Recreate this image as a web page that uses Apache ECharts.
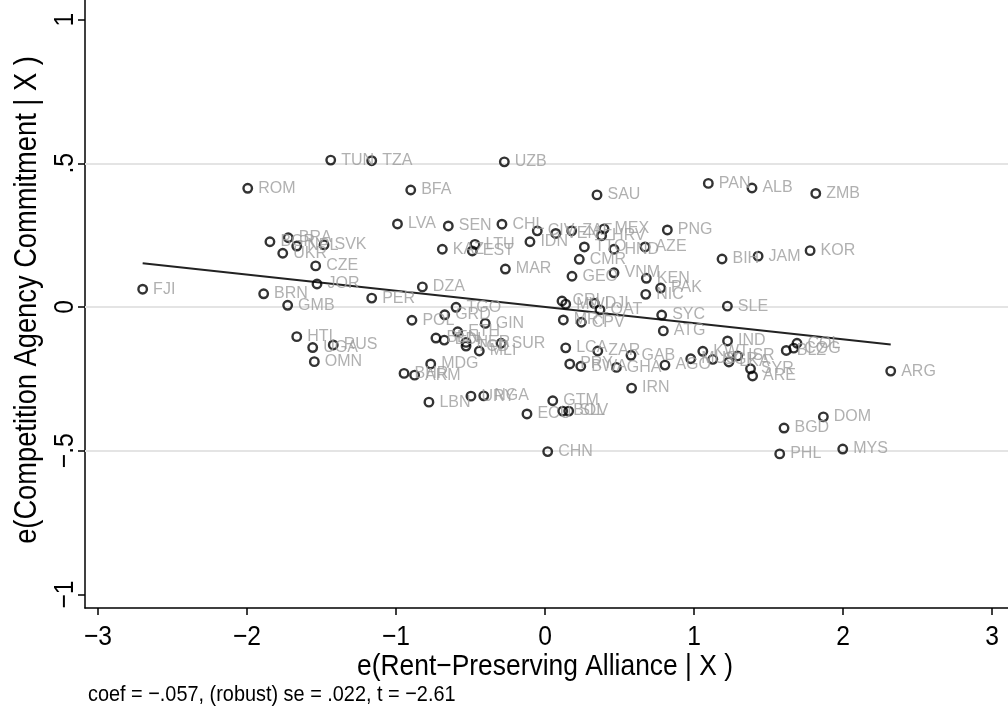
<!DOCTYPE html>
<html>
<head>
<meta charset="utf-8">
<script src="https://cdn.jsdelivr.net/npm/echarts@6/dist/echarts.min.js"></script>
<style>
  html, body { margin: 0; padding: 0; background: #fff; }
  #chart { width: 1008px; height: 715px; }
</style>
</head>
<body>
<div id="chart"></div>
<script>
// country codes and partial-residual values
var codes = ['FJI','ROM','TUN','TZA','BGR','BRA','NPL','SVK','UKR','CZE','JOR','BRN','GMB','PER','HTI','UGA','RUS','OMN',
  'LVA','BFA','UZB','SAU','SEN','CHL','CIV','VEN','ZAF','MEX','HRV','IDN','KAZ','LTU','EST','TTO','HND','AZE','CMR','MAR',
  'GEO','VNM','KEN','PAK','NIC','DZA','TGO','GRD','POL','GIN','CRI','MWI','DJI','QAT','MRT','CPV','SYC','ATG','SLE',
  'ETH','BEN','BDI','NER','TCD','SUR','MLI','MDG','BHR','ARM','LBN','URY','NGA','GTM','ECU','BOL','SLV','LCA','ZAR',
  'PRY','BWA','GHA','GAB','AGO','IRN','CHN','IND','MUS','KWT','SGP','LKA','ISR','SYR','ARE','BLZ','COG','COL','ARG',
  'DOM','BGD','PHL','MYS','PAN','ALB','ZMB','PNG','BIH','JAM','KOR'];
var xs = [-2.700,-1.995,-1.438,-1.163,-1.846,-1.723,-1.666,-1.483,-1.760,-1.539,-1.530,-1.888,-1.727,-1.163,-1.666,-1.559,-1.421,-1.548,
  -0.990,-0.901,-0.273,0.349,-0.649,-0.289,-0.052,0.072,0.179,0.396,0.380,-0.101,-0.689,-0.470,-0.488,0.264,0.463,0.671,0.230,-0.266,
  0.181,0.463,0.680,0.776,0.676,-0.823,-0.597,-0.673,-0.893,-0.401,0.114,0.139,0.331,0.369,0.123,0.244,0.783,0.794,1.224,
  -0.586,-0.732,-0.676,-0.530,-0.530,-0.295,-0.441,-0.767,-0.946,-0.875,-0.779,-0.497,-0.411,0.052,-0.121,0.119,0.159,0.139,0.354,
  0.166,0.240,0.479,0.577,0.805,0.581,0.018,1.225,0.978,1.059,1.126,1.234,1.292,1.379,1.393,1.619,1.669,1.691,2.320,
  1.868,1.604,1.575,1.998,1.096,1.389,1.817,0.821,1.188,1.430,1.779];
var ys = [0.062,0.413,0.511,0.509,0.227,0.241,0.212,0.216,0.187,0.143,0.080,0.046,0.006,0.031,-0.103,-0.141,-0.132,-0.190,
  0.289,0.407,0.505,0.390,0.282,0.288,0.265,0.256,0.265,0.272,0.248,0.227,0.201,0.218,0.195,0.209,0.201,0.209,0.166,0.132,
  0.107,0.119,0.100,0.066,0.044,0.070,-0.001,-0.027,-0.046,-0.057,0.021,0.010,0.013,-0.010,-0.045,-0.053,-0.028,-0.083,0.003,
  -0.086,-0.108,-0.115,-0.123,-0.136,-0.126,-0.153,-0.198,-0.231,-0.237,-0.331,-0.310,-0.309,-0.326,-0.372,-0.362,-0.362,-0.142,-0.153,
  -0.198,-0.206,-0.210,-0.168,-0.202,-0.282,-0.503,-0.118,-0.180,-0.154,-0.182,-0.191,-0.170,-0.215,-0.240,-0.151,-0.143,-0.126,-0.223,
  -0.382,-0.421,-0.511,-0.494,0.430,0.414,0.395,0.268,0.167,0.177,0.196];

// fitted line endpoints (coef = -.057)
var fitX = [-2.70, 2.32];
var fitY = [0.152, -0.130];

var xTicks = [-3, -2, -1, 0, 1, 2, 3];
var yTicks = [-1, -0.5, 0, 0.5, 1];
var yGrid = [-0.5, 0, 0.5];

var xTitle = 'e(Rent\u2212Preserving Alliance | X )';
var yTitle = 'e(Competition Agency Commitment | X )';
var note = 'coef = \u2212.057, (robust) se = .022, t = \u22122.61';

var sans = '"Liberation Sans", Arial, sans-serif';
var squeeze = 0.88;   // no narrow font installed, so squeeze the text

// stata style numbers: minus sign, no leading zero
function stataNum(v) {
    var s = String(Math.abs(v)).replace(/^0\./, '.');
    return v < 0 ? '\u2212' + s : s;
}

var chart = echarts.init(document.getElementById('chart'));

var points = codes.map(function (c, i) {
    return { name: c, value: [xs[i], ys[i]] };
});

var option = {
    backgroundColor: '#fff',
    animation: false,
    grid: { left: 85, right: 0, top: 0, bottom: 107 },
    xAxis: {
        type: 'value',
        min: -3.087,
        max: 3.107,
        axisLine: { onZero: false, lineStyle: { color: '#000', width: 1.5 } },
        axisTick: { customValues: xTicks, length: 7, lineStyle: { color: '#000', width: 1.5 } },
        axisLabel: { show: false },
        splitLine: { show: false }
    },
    yAxis: {
        type: 'value',
        min: -1.047,
        max: 1.068,
        axisLine: { onZero: false, lineStyle: { color: '#000', width: 1.5 } },
        axisTick: { customValues: yTicks, length: 7, lineStyle: { color: '#000', width: 1.5 } },
        axisLabel: { show: false },
        splitLine: { show: false }
    },
    series: [
        {
            type: 'line',
            data: fitX.map(function (x, i) { return [x, fitY[i]]; }),
            showSymbol: false,
            lineStyle: { color: '#222', width: 2 },
            z: 3,
            silent: true,
            markLine: {
                silent: true,
                symbol: 'none',
                label: { show: false },
                lineStyle: { color: '#e4e4e4', width: 2, type: 'solid' },
                data: yGrid.map(function (v) { return { yAxis: v }; }),
                z: 1
            }
        },
        {
            type: 'scatter',
            data: points,
            symbol: 'circle',
            symbolSize: 8.5,
            itemStyle: { color: 'rgba(0,0,0,0)', borderColor: '#000', borderWidth: 2.4 },
            label: {
                show: true,
                position: 'right',
                distance: 5,
                formatter: '{b}',
                fontFamily: sans,
                fontSize: 16,
                color: '#9c9c9c'
            },
            z: 4
        }
    ]
};

chart.setOption(option);

// tick labels and titles drawn as squeezed text, placed through the axes
function txt(s, x, y, size, rot, align) {
    return {
        type: 'text',
        x: x,
        y: y,
        rotation: rot || 0,
        scaleX: squeeze,
        style: {
            text: s,
            font: size + 'px ' + sans,
            fill: '#000',
            align: align || 'center',
            verticalAlign: 'middle'
        },
        silent: true
    };
}

var bits = [];
xTicks.forEach(function (v) {
    var p = chart.convertToPixel({ gridIndex: 0 }, [v, 0]);
    bits.push(txt(stataNum(v), p[0], 637, 28));
});
yTicks.forEach(function (v) {
    var p = chart.convertToPixel({ gridIndex: 0 }, [0, v]);
    bits.push(txt(stataNum(v), 65, p[1], 28, Math.PI / 2));
});
var mid = chart.convertToPixel({ gridIndex: 0 }, [0, 0]);
bits.push(txt(xTitle, mid[0], 667, 30));
bits.push(txt(yTitle, 27, 300, 31, Math.PI / 2));
bits.push(txt(note, 88, 695, 22.6, 0, 'left'));

chart.setOption({ graphic: bits });
</script>
</body>
</html>
